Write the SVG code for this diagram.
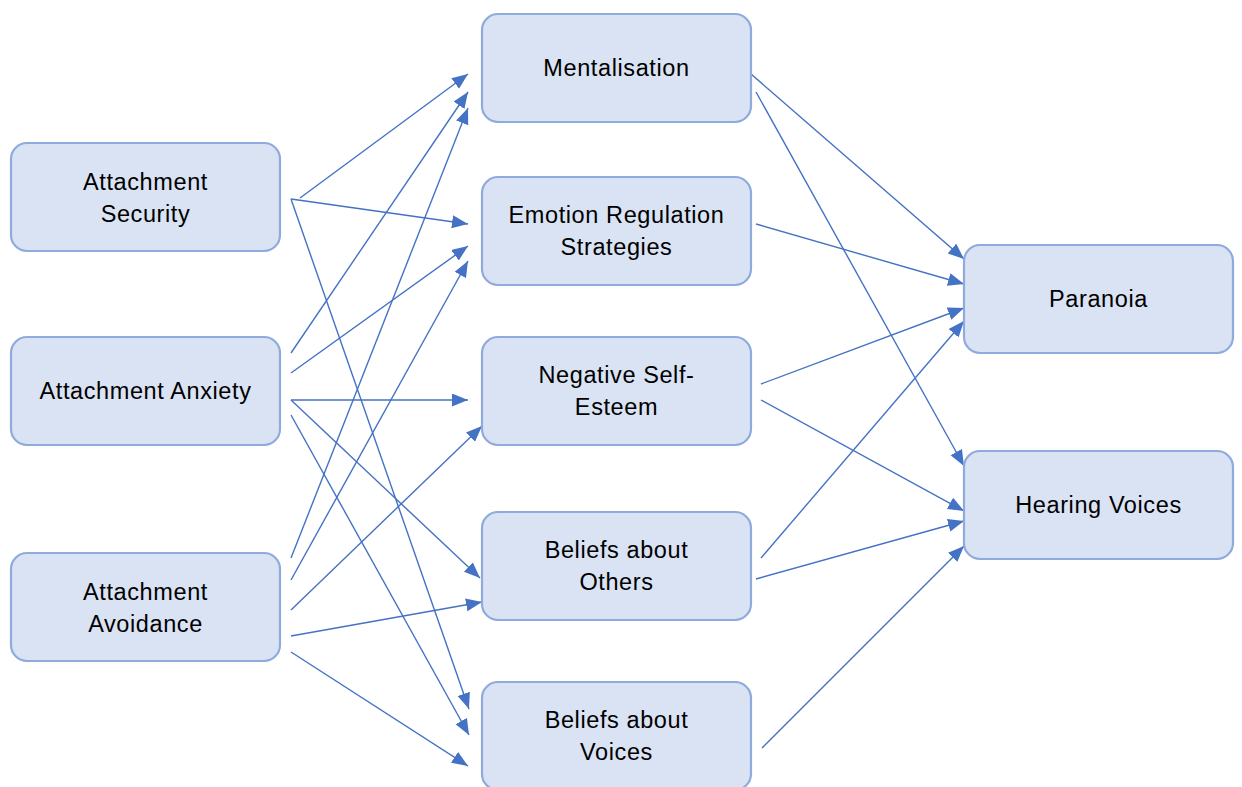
<svg xmlns="http://www.w3.org/2000/svg" width="1242" height="787" viewBox="0 0 1242 787">
<defs>
<style>
.box{fill:#DAE3F3;stroke:#8FAADC;stroke-width:2.2}
.lbl{font-family:"Liberation Sans",Arial,sans-serif;font-size:23.5px;letter-spacing:0.6px;fill:#000;text-anchor:middle;dominant-baseline:central}
.c line{stroke:#4472C4;stroke-width:1.4;marker-end:url(#ah)}
</style>
<marker id="ah" markerUnits="userSpaceOnUse" markerWidth="17" markerHeight="14" refX="16" refY="6.5" orient="auto">
<path d="M0,0 L16,6.5 L0,13 z" fill="#4472C4"/>
</marker>
</defs>
<rect width="1242" height="787" fill="#fff"/>
<g class="c" id="connectors">
<line x1="300" y1="198" x2="468" y2="74"/>
<line x1="291" y1="199" x2="468" y2="224"/>
<line x1="291" y1="199" x2="469" y2="709"/>
<line x1="291" y1="353" x2="468" y2="92"/>
<line x1="291" y1="373" x2="468" y2="246"/>
<line x1="291" y1="400" x2="468" y2="400"/>
<line x1="291" y1="400" x2="480" y2="578"/>
<line x1="291" y1="415" x2="469" y2="735"/>
<line x1="291" y1="558" x2="468" y2="108"/>
<line x1="291" y1="580" x2="468" y2="261"/>
<line x1="291" y1="610" x2="482" y2="426"/>
<line x1="291" y1="636" x2="482" y2="602"/>
<line x1="291" y1="652" x2="468" y2="766"/>
<line x1="751" y1="74" x2="964" y2="259"/>
<line x1="756" y1="92" x2="964" y2="466"/>
<line x1="756" y1="224" x2="964" y2="284"/>
<line x1="761" y1="384" x2="964" y2="308"/>
<line x1="761" y1="400" x2="964" y2="511"/>
<line x1="761" y1="558" x2="964" y2="321"/>
<line x1="756" y1="579" x2="964" y2="521"/>
<line x1="762" y1="748" x2="964" y2="546"/>
</g>
<g id="security"><rect class="box" x="11" y="143" width="269" height="108" rx="16"/><text class="lbl" x="145.5" y="182">Attachment</text><text class="lbl" x="145.5" y="214">Security</text></g>
<g id="anxiety"><rect class="box" x="11" y="337" width="269" height="108" rx="16"/><text class="lbl" x="145.5" y="391">Attachment Anxiety</text></g>
<g id="avoidance"><rect class="box" x="11" y="553" width="269" height="108" rx="16"/><text class="lbl" x="145.5" y="592">Attachment</text><text class="lbl" x="145.5" y="624">Avoidance</text></g>
<g id="mentalisation"><rect class="box" x="482" y="14" width="269" height="108" rx="16"/><text class="lbl" x="616.5" y="68">Mentalisation</text></g>
<g id="emotion"><rect class="box" x="482" y="177" width="269" height="108" rx="16"/><text class="lbl" x="616.5" y="215">Emotion Regulation</text><text class="lbl" x="616.5" y="247">Strategies</text></g>
<g id="selfesteem"><rect class="box" x="482" y="337" width="269" height="108" rx="16"/><text class="lbl" x="616.5" y="375">Negative Self-</text><text class="lbl" x="616.5" y="407">Esteem</text></g>
<g id="others"><rect class="box" x="482" y="512" width="269" height="108" rx="16"/><text class="lbl" x="616.5" y="550">Beliefs about</text><text class="lbl" x="616.5" y="582">Others</text></g>
<g id="voices"><rect class="box" x="482" y="682" width="269" height="108" rx="16"/><text class="lbl" x="616.5" y="720">Beliefs about</text><text class="lbl" x="616.5" y="752">Voices</text></g>
<g id="paranoia"><rect class="box" x="964" y="245" width="269" height="108" rx="16"/><text class="lbl" x="1098.5" y="299">Paranoia</text></g>
<g id="hearing"><rect class="box" x="964" y="451" width="269" height="108" rx="16"/><text class="lbl" x="1098.5" y="505">Hearing Voices</text></g>
</svg>
